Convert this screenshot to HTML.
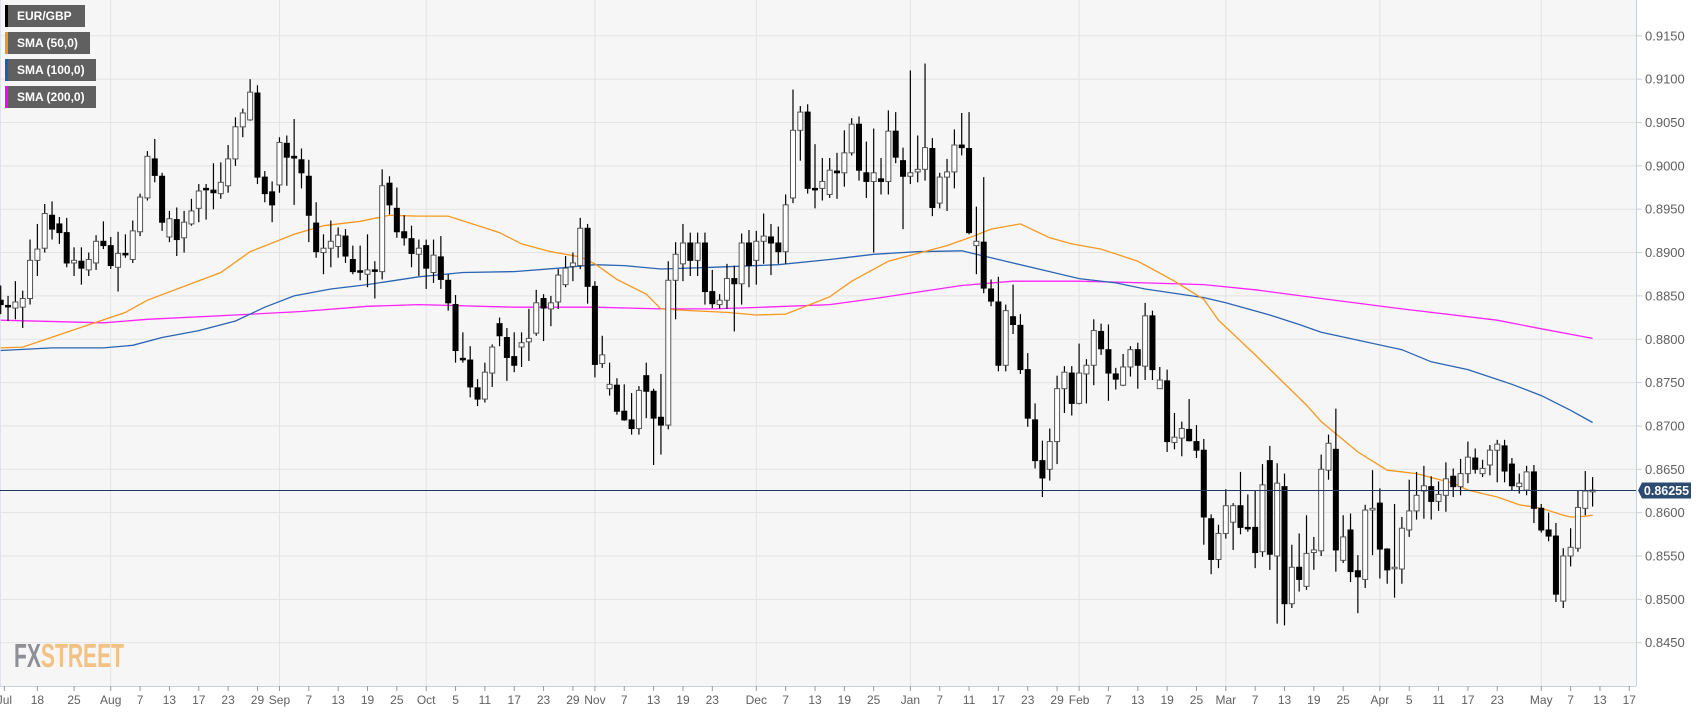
<!DOCTYPE html>
<html><head><meta charset="utf-8"><style>
html,body{margin:0;padding:0;background:#fff;width:1707px;height:712px;overflow:hidden;font-family:"Liberation Sans",sans-serif}
#wrap{position:relative;width:1707px;height:712px}
svg{position:absolute;left:0;top:0}
.leg{position:absolute;left:5px;height:22px;background:#606060;color:#fff;font:bold 12px "Liberation Sans",sans-serif;line-height:22px;padding-left:12px;box-sizing:border-box}
.leg i{position:absolute;left:0;top:0;width:3px;height:22px}
</style></head><body>
<div id="wrap">
<svg id="chart" width="1707" height="712"></svg>
<div class="leg" style="top:5px;width:80px"><i style="background:#000"></i>EUR/GBP</div>
<div class="leg" style="top:32px;width:85px"><i style="background:#f7941d"></i>SMA (50,0)</div>
<div class="leg" style="top:59px;width:91px"><i style="background:#1e5fb4"></i>SMA (100,0)</div>
<div class="leg" style="top:86px;width:91px"><i style="background:#ff00ff"></i>SMA (200,0)</div>
</div>
<script>
const opens=[.8845,.8839,.8836,.8837,.8847,.8891,.8905,.8943,.8933,.8923,.8888,.8890,.8880,.8888,.8913,.8908,.8883,.8899,.8892,.8924,.8963,.9008,.8988,.8918,.8938,.8917,.8933,.8951,.8974,.8972,.8968,.8977,.9008,.9045,.9053,.9084,.8987,.8970,.8978,.9026,.9011,.9007,.8988,.8934,.8900,.8905,.8907,.8919,.8892,.8879,.8875,.8880,.8878,.8980,.8951,.8924,.8916,.8898,.8908,.8877,.8895,.8868,.8840,.8778,.8776,.8744,.8731,.8761,.8818,.8802,.8780,.8791,.8797,.8807,.8847,.8835,.8843,.8863,.8884,.8885,.8928,.8861,.8772,.8743,.8747,.8717,.8707,.8697,.8758,.8740,.8710,.8701,.8868,.8887,.8911,.8891,.8911,.8855,.8840,.8845,.8870,.8864,.8911,.8891,.8913,.8918,.8911,.8901,.8963,.9041,.9062,.8974,.8974,.8967,.8994,.8992,.9015,.9048,.8992,.8982,.8985,.8982,.9040,.9006,.8988,.8993,.8996,.9020,.8957,.8987,.8993,.9024,.9020,.8908,.8912,.8858,.8843,.8770,.8826,.8816,.8765,.8707,.8660,.8650,.8682,.8743,.8761,.8726,.8760,.8770,.8809,.8788,.8760,.8747,.8768,.8788,.8769,.8827,.8743,.8752,.8681,.8686,.8696,.8682,.8672,.8593,.8546,.8576,.8589,.8608,.8583,.8583,.8555,.8660,.8550,.8630,.8495,.8537,.8515,.8554,.8556,.8649,.8673,.8545,.8580,.8533,.8523,.8603,.8611,.8558,.8537,.8535,.8580,.8602,.8625,.8630,.8613,.8620,.8642,.8630,.8645,.8663,.8645,.8655,.8672,.8677,.8656,.8630,.8626,.8647,.8605,.8580,.8573,.8498,.8550,.8559,.8605,.8624];
const highs=[.8862,.8850,.8867,.8856,.8915,.8933,.8956,.8959,.8941,.8940,.8906,.8906,.8900,.8920,.8936,.8918,.8924,.8921,.8937,.8968,.9017,.9031,.8992,.8948,.8952,.8948,.8962,.8979,.8979,.9003,.9004,.9024,.9056,.9066,.9100,.9093,.8994,.8982,.9033,.9035,.9054,.9020,.9007,.8958,.8921,.8937,.8929,.8927,.8908,.8908,.8921,.8890,.8996,.8988,.8975,.8943,.8931,.8915,.8915,.8915,.8919,.8875,.8851,.8808,.8792,.8754,.8773,.8794,.8825,.8813,.8808,.8808,.8835,.8857,.8852,.8850,.8881,.8896,.8900,.8940,.8933,.8867,.8804,.8773,.8755,.8748,.8738,.8746,.8773,.8743,.8760,.8890,.8912,.8933,.8923,.8923,.8923,.8880,.8852,.8887,.8885,.8922,.8926,.8925,.8945,.8933,.8930,.8967,.9088,.9069,.9071,.9025,.9009,.9009,.9015,.9041,.9055,.9057,.9028,.9043,.9009,.9064,.9062,.9021,.9110,.9035,.9118,.9032,.8992,.9008,.9042,.9061,.9062,.8953,.8987,.8869,.8872,.8840,.8863,.8829,.8784,.8726,.8683,.8697,.8758,.8769,.8769,.8795,.8777,.8823,.8818,.8817,.8767,.8783,.8792,.8796,.8842,.8833,.8768,.8765,.8715,.8705,.8731,.8701,.8685,.8598,.8586,.8627,.8611,.8647,.8621,.8625,.8656,.8677,.8657,.8645,.8563,.8576,.8597,.8572,.8667,.8690,.8720,.8597,.8599,.8551,.8609,.8649,.8628,.8559,.8610,.8595,.8638,.8647,.8654,.8642,.8636,.8658,.8651,.8662,.8682,.8674,.8661,.8678,.8684,.8684,.8663,.8645,.8654,.8655,.8610,.8600,.8588,.8559,.8582,.8625,.8648,.8641];
const lows=[.8829,.8821,.8823,.8813,.8840,.8873,.8900,.8915,.8910,.8883,.8873,.8863,.8873,.8880,.8904,.8881,.8855,.8894,.8888,.8919,.8960,.8981,.8925,.8912,.8896,.8900,.8931,.8935,.8938,.8950,.8962,.8969,.9000,.9033,.9052,.8979,.8958,.8935,.8969,.8977,.8955,.8974,.8912,.8894,.8875,.8883,.8894,.8888,.8875,.8868,.8860,.8847,.8869,.8944,.8917,.8908,.8883,.8873,.8858,.8865,.8858,.8833,.8773,.8773,.8733,.8723,.8727,.8745,.8792,.8752,.8762,.8768,.8775,.8804,.8798,.8815,.8835,.8860,.8867,.8881,.8841,.8756,.8767,.8735,.8713,.8706,.8690,.8690,.8709,.8655,.8667,.8696,.8823,.8867,.8873,.8873,.8840,.8836,.8835,.8835,.8809,.8840,.8860,.8863,.8887,.8874,.8887,.8887,.8957,.9006,.8968,.8951,.8960,.8963,.8962,.8976,.9012,.8983,.8963,.8900,.8967,.8967,.9003,.8927,.8979,.8981,.8983,.8942,.8951,.8948,.8974,.9012,.8921,.8875,.8853,.8838,.8763,.8763,.8806,.8760,.8699,.8651,.8618,.8637,.8656,.8715,.8712,.8725,.8726,.8747,.8782,.8729,.8742,.8746,.8757,.8743,.8753,.8753,.8743,.8670,.8673,.8665,.8682,.8663,.8563,.8529,.8536,.8570,.8557,.8575,.8578,.8536,.8549,.8534,.8472,.8470,.8490,.8509,.8511,.8534,.8550,.8638,.8532,.8542,.8520,.8484,.8513,.8551,.8524,.8518,.8502,.8518,.8572,.8592,.8593,.8592,.8602,.8601,.8618,.8620,.8634,.8645,.8641,.8643,.8635,.8635,.8626,.8622,.8620,.8588,.8577,.8567,.8497,.8490,.8538,.8555,.8597,.8607];
const closes=[.8840,.8838,.8843,.8847,.8891,.8904,.8945,.8927,.8923,.8888,.8891,.8882,.8892,.8913,.8908,.8885,.8899,.8898,.8925,.8964,.9011,.8989,.8935,.8939,.8915,.8935,.8948,.8971,.8973,.8969,.8981,.9008,.9045,.9061,.9085,.8987,.8968,.8955,.9027,.9010,.9009,.8992,.8943,.8901,.8905,.8913,.8920,.8896,.8878,.8878,.8880,.8879,.8977,.8955,.8924,.8917,.8899,.8905,.8882,.8897,.8869,.8842,.8787,.8777,.8745,.8731,.8762,.8791,.8804,.8779,.8770,.8796,.8801,.8842,.8836,.8842,.8874,.8882,.8888,.8928,.8861,.8771,.8782,.8748,.8717,.8707,.8697,.8741,.8740,.8709,.8701,.8868,.8898,.8911,.8891,.8911,.8855,.8841,.8845,.8870,.8864,.8911,.8885,.8913,.8919,.8911,.8901,.8955,.9041,.9062,.8974,.8973,.8982,.8995,.8992,.9015,.9048,.8995,.8982,.8992,.8982,.9040,.9010,.8988,.8992,.8996,.9021,.8952,.8987,.8993,.9024,.9021,.8923,.8913,.8859,.8844,.8770,.8833,.8817,.8765,.8709,.8660,.8640,.8682,.8743,.8762,.8726,.8761,.8770,.8810,.8789,.8761,.8754,.8768,.8788,.8770,.8827,.8765,.8753,.8682,.8687,.8697,.8683,.8672,.8595,.8546,.8576,.8608,.8608,.8583,.8582,.8554,.8632,.8552,.8634,.8495,.8537,.8523,.8553,.8557,.8650,.8680,.8557,.8572,.8532,.8526,.8603,.8605,.8558,.8534,.8537,.8582,.8602,.8620,.8631,.8613,.8621,.8639,.8630,.8645,.8664,.8650,.8651,.8672,.8679,.8648,.8631,.8634,.8647,.8605,.8580,.8573,.8506,.8550,.8560,.8606,.8625,.8626];
const sma50Idx=[0,3,9,17,20,30,34,40,44,49,53,57,61,68,71,75,79,81,84,88,90,94,99,103,107,113,116,121,129,132,135,139,143,146,150,155,160,164,166,171,174,178,180,183,185,189,193,198,200,204,207,210,213,214,215,217];
const sma50Val=[.8790,.8791,.8808,.8831,.8845,.8877,.8901,.8921,.8931,.8936,.8943,.8942,.8942,.8923,.8910,.8901,.8895,.8887,.8869,.8852,.8835,.8833,.8831,.8828,.8829,.8849,.8867,.8890,.8908,.8917,.8927,.8933,.8917,.8910,.8904,.8890,.8867,.8846,.8822,.8782,.8757,.8724,.8705,.8684,.8670,.8649,.8645,.8634,.8626,.8618,.8609,.8605,.8597,.8595,.8595,.8597];
const sma100Idx=[0,7,14,18,22,27,32,36,40,45,50,57,63,70,76,81,85,90,97,106,113,115,119,125,131,134,138,143,147,152,156,164,167,173,177,180,191,195,200,206,210,214,217];
const sma100Val=[.8787,.8790,.8790,.8793,.8802,.8810,.8821,.8837,.8850,.8858,.8863,.8872,.8877,.8878,.8882,.8886,.8885,.8881,.8883,.8886,.8892,.8894,.8898,.8901,.8902,.8896,.8888,.8878,.8870,.8865,.8858,.8848,.8842,.8828,.8817,.8808,.8788,.8774,.8765,.8748,.8735,.8718,.8704];
const sma200Idx=[0,14,20,32,41,50,57,70,81,90,97,104,113,120,131,138,147,156,164,171,180,191,204,210,217];
const sma200Val=[.8822,.8819,.8823,.8828,.8832,.8838,.8840,.8837,.8837,.8835,.8835,.8837,.8840,.8848,.8862,.8867,.8867,.8865,.8863,.8857,.8847,.8835,.8822,.8812,.8801];
const priceTicks=[.9150,.9100,.9050,.9000,.8950,.8900,.8850,.8800,.8750,.8700,.8650,.8600,.8550,.8500,.8450];
const xLabels=["Jul","18","25","Aug","7","13","17","23","29","Sep","7","13","19","25","Oct","5","11","17","23","29","Nov","7","13","19","23","Dec","7","13","19","25","Jan","7","11","17","23","29","Feb","7","13","19","25","Mar","7","13","19","25","Apr","5","11","17","23","May","7","13","17"];
const xLabelIdx=[0.5,5,10,15,19,23,27,31,35,38,42,46,50,54,58,62,66,70,74,78,81,85,89,93,97,103,107,111,115,119,124,128,132,136,140,144,147,151,155,159,163,167,171,175,179,183,188,192,196,200,204,210,214,218,222];
const monthIdx=[15,38,58,81,103,124,147,167,188,210];
const lastPrice=0.86255;

const NS="http://www.w3.org/2000/svg";
const svg=document.getElementById('chart');
const PL=0,PR=1636,PT=0,PB=686;
function xOf(i){return 0.7+i*7.336;}
function yOf(p){return 469.3+(0.8650-p)*8670;}
function mk(tag,attrs,parent){const e=document.createElementNS(NS,tag);for(const k in attrs)e.setAttribute(k,attrs[k]);(parent||svg).appendChild(e);return e;}

const bg=mk('rect',{x:PL,y:PT,width:PR-PL,height:PB-PT,fill:'#f6f6f6'});


priceTicks.forEach(p=>{
  const g=mk('line',{x1:PL,x2:PR,y1:yOf(p),y2:yOf(p),stroke:'#e3e3e3','stroke-width':1});
  
  
  mk('line',{x1:PR,x2:PR+6,y1:yOf(p),y2:yOf(p),stroke:'#c8cfe0'});
  const t=mk('text',{x:PR+9,y:yOf(p)+4.5,'font-size':13,fill:'#606060','font-family':'Liberation Sans, sans-serif'});
  t.textContent=p.toFixed(4);
  
  
});
monthIdx.forEach(i=>{
  const g=mk('line',{x1:xOf(i),x2:xOf(i),y1:PT,y2:PB,stroke:'#e3e3e3'});
  
  
});
mk('line',{x1:PR+0.5,x2:PR+0.5,y1:0,y2:PB,stroke:'#c8cfe0'});
mk('line',{x1:0,x2:PR,y1:PB+0.5,y2:PB+0.5,stroke:'#c8cfe0'});
mk('line',{x1:0.5,x2:0.5,y1:0,y2:PB,stroke:'#dde2ee'});
xLabels.forEach((s,k)=>{
  const x=xOf(xLabelIdx[k]);
  mk('line',{x1:x,x2:x,y1:PB,y2:PB+5,stroke:'#999'});
  const t=mk('text',{x:x,y:704,'font-size':12,fill:'#606060','text-anchor':'middle','font-family':'Liberation Sans, sans-serif'});
  t.textContent=s;
  
  
});
const logo=mk('text',{x:14,y:667,'font-size':33,'font-weight':'bold','font-family':'Liberation Sans, sans-serif',textLength:110,lengthAdjust:'spacingAndGlyphs'});


const t1=mk('tspan',{fill:'#8f9096'},logo);t1.textContent='FX';
const t2=mk('tspan',{fill:'#f2c184'},logo);t2.textContent='STREET';

function smaLine(idx,val,color,name){
  const pts=idx.map((i,k)=>xOf(i).toFixed(1)+','+yOf(val[k]).toFixed(1)).join(' ');
  const pl=mk('polyline',{points:pts,fill:'none',stroke:color,'stroke-width':1.3});
  
  
}
smaLine(sma200Idx,sma200Val,'#ff22ff','sma-200-line');
smaLine(sma100Idx,sma100Val,'#2a64b4','sma-100-line');
smaLine(sma50Idx,sma50Val,'#f7981f','sma-50-line');

opens.forEach((o,i)=>{
  const c=closes[i],h=highs[i],l=lows[i],x=xOf(i);
  const up=c>=o;
  const w=mk('line',{x1:x,x2:x,y1:yOf(h),y2:yOf(l),stroke:'#000','stroke-width':1.2});
  
  
  const top=yOf(Math.max(o,c)),bot=yOf(Math.min(o,c));
  const b=mk('rect',{x:x-2.5,y:top,width:5,height:Math.max(bot-top,1.5),fill:up?'#fff':'#000',stroke:up?'#555':'#000','stroke-width':1});
  
  
});

const ly=yOf(lastPrice);
const pl=mk('line',{x1:0,x2:PR,y1:ly,y2:ly,stroke:'#1f3a60','stroke-width':1});


const tag=mk('path',{d:`M${PR+2},${ly} L${PR+6},${ly-8} L${PR+55},${ly-8} L${PR+55},${ly+8} L${PR+6},${ly+8} Z`,fill:'#2d4a70'});


const lt=mk('text',{x:PR+30.5,y:ly+4.5,'font-size':12.5,'font-weight':'bold',fill:'#fff','text-anchor':'middle','font-family':'Liberation Sans, sans-serif'});
lt.textContent=lastPrice.toFixed(5);


</script>
</body></html>
